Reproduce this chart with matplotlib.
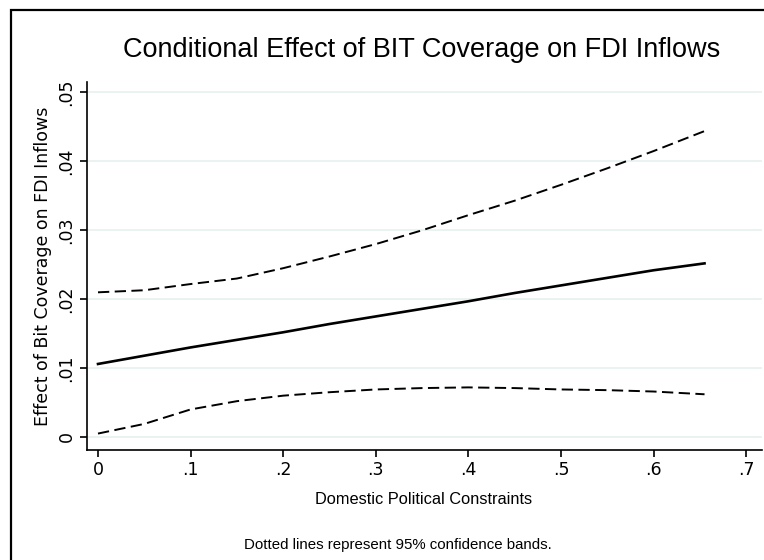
import matplotlib
matplotlib.use("Agg")
import matplotlib.pyplot as plt
from matplotlib.patches import Rectangle

# Data
x_vals = [0.0, 0.05, 0.1, 0.15, 0.2, 0.25, 0.3, 0.35, 0.4, 0.45, 0.5, 0.55, 0.6, 0.655]
effect = [0.0106, 0.0118, 0.0130, 0.0141, 0.0152, 0.0164, 0.0175, 0.0186, 0.0197, 0.0209, 0.0220, 0.0231, 0.0242, 0.0252]
upper = [0.0210, 0.0213, 0.0222, 0.0230, 0.0245, 0.0262, 0.0280, 0.0300, 0.0322, 0.0343, 0.0366, 0.0390, 0.0415, 0.0444]
lower = [0.0005, 0.0019, 0.0040, 0.0052, 0.0060, 0.0065, 0.0069, 0.0071, 0.0072, 0.0071, 0.0069, 0.0068, 0.0066, 0.0062]

x_ticks = [0, 0.1, 0.2, 0.3, 0.4, 0.5, 0.6, 0.7]
x_tick_labels = ["0", ".1", ".2", ".3", ".4", ".5", ".6", ".7"]
y_ticks = [0, 0.01, 0.02, 0.03, 0.04, 0.05]
y_tick_labels = ["0", ".01", ".02", ".03", ".04", ".05"]

title = "Conditional Effect of BIT Coverage on FDI Inflows"
x_label = "Domestic Political Constraints"
y_label = "Effect of Bit Coverage on FDI Inflows"
note = "Dotted lines represent 95% confidence bands."

W, H = 764, 560
fig = plt.figure(figsize=(W / 100, H / 100), dpi=100)
fig.patch.set_facecolor("white")

# outer graph-region frame (only left/top visible)
fig.patches.append(Rectangle((10.5 / W, -0.2), 1.2, 1.2 - 10 / H,
                             transform=fig.transFigure, fill=False,
                             edgecolor="black", linewidth=1.6, clip_on=False))

left, right, top, bottom = 86.7, 762, 82, 450
ax = fig.add_axes([left / W, 1 - bottom / H, (right - left) / W, (bottom - top) / H])

dash = (0, (5.8, 2.8))
ax.plot(x_vals, upper, color="black", lw=1.4, linestyle=dash)
ax.plot(x_vals, effect, color="black", lw=1.9, linestyle="-")
ax.plot(x_vals, lower, color="black", lw=1.4, linestyle=dash)

px_x = 0.1 / 92.6
px_y = 0.01 / 68.9
ax.set_xlim(0 - (98 - left) * px_x, 0 + (right - 98) * px_x)
ax.set_ylim(0 - (bottom - 437) * px_y, 0 + (437 - top) * px_y)

ax.set_xticks(x_ticks)
ax.set_xticklabels(x_tick_labels)
ax.set_yticks(y_ticks)
ax.set_yticklabels(y_tick_labels, rotation=90, va="center")

for s in ["top", "right"]:
    ax.spines[s].set_visible(False)
for s in ["left", "bottom"]:
    ax.spines[s].set_linewidth(1.2)

ax.tick_params(axis="both", direction="out", length=5, width=1.2, labelsize=12.5, pad=3)
ax.yaxis.grid(True, color="#e8f0f0", linewidth=1.2)
ax.set_axisbelow(True)

ax.set_ylabel(y_label, fontsize=12.5, labelpad=4)

fig.text(424 / W, 1 - 500 / H, x_label, ha="center", va="center", fontsize=11.8,
         family="Liberation Sans")
fig.text(422 / W, 1 - 50 / H, title, ha="center", va="center", fontsize=19.5,
         family="Liberation Sans")
fig.text(398 / W, 1 - 545 / H, note, ha="center", va="center", fontsize=10.8,
         family="Liberation Sans")

fig.savefig("out.png", dpi=100)
